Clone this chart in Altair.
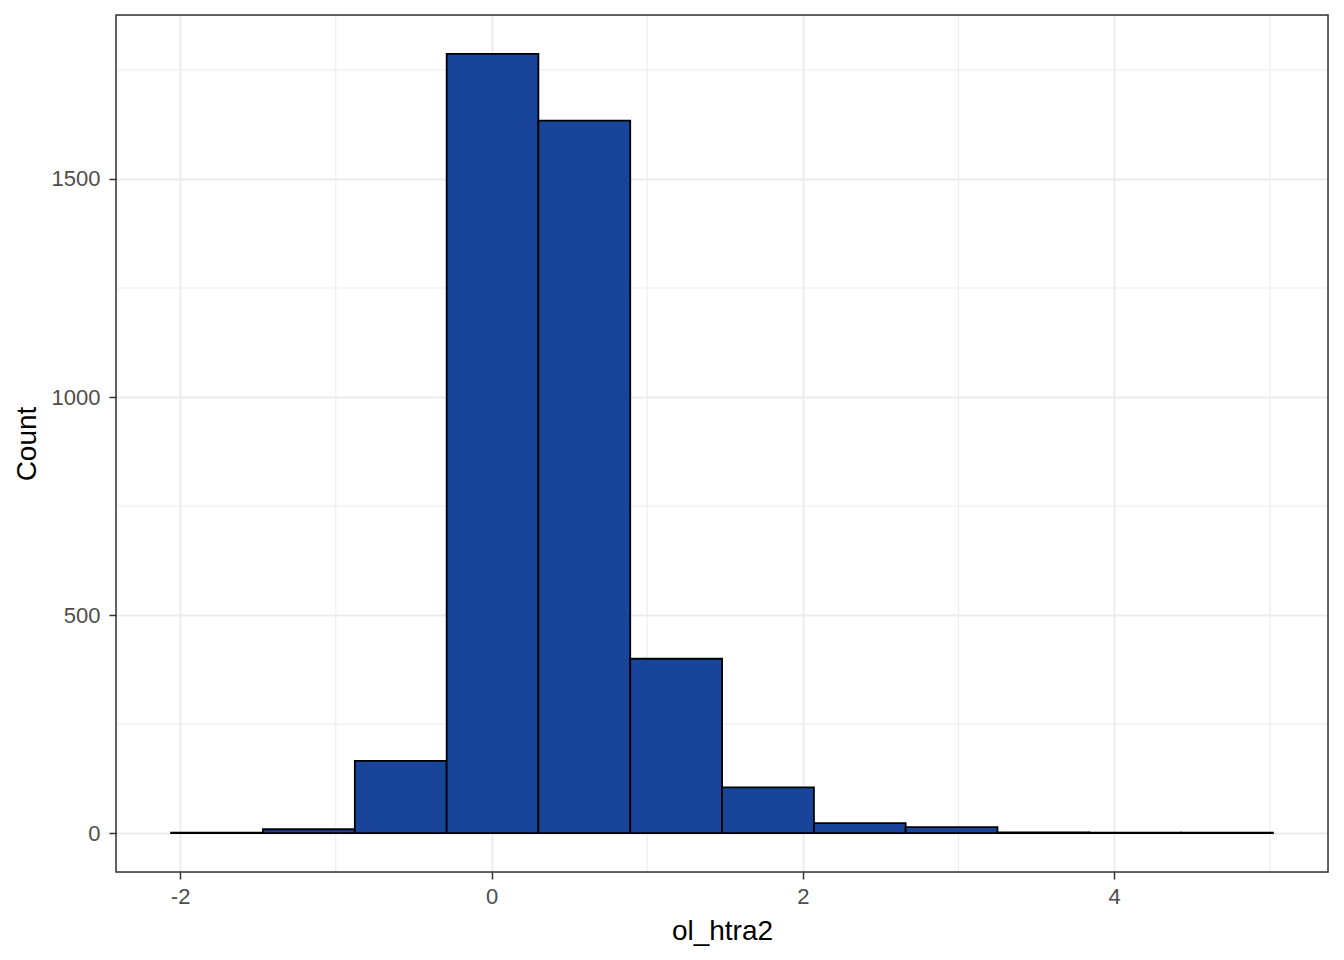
import altair as alt
import pandas as pd

# Histogram bins
bin_start = [-2.058, -1.468, -0.878, -0.288, 0.301, 0.891, 1.481, 2.071, 2.660, 3.250, 3.840, 4.430]
bin_end = [-1.468, -0.878, -0.288, 0.301, 0.891, 1.481, 2.071, 2.660, 3.250, 3.840, 4.430, 5.019]
counts = [1, 9, 166, 1787, 1634, 400, 105, 23, 14, 2, 1, 1]

x_major = [-2, 0, 2, 4]
x_minor = [-1, 1, 3, 5]
y_major = [0, 500, 1000, 1500]
y_minor = [250, 750, 1250, 1750]

x_domain = [-2.412, 5.373]
y_domain = [-89, 1876]

FONT = "Liberation Sans"
GRID = "#EBEBEB"

bars_df = pd.DataFrame({"start": bin_start, "end": bin_end, "count": counts})
xminor_df = pd.DataFrame({"v": x_minor})
yminor_df = pd.DataFrame({"v": y_minor})
frame_df = pd.DataFrame({"k": [0]})

xscale = alt.Scale(domain=x_domain, nice=False, zero=False)
yscale = alt.Scale(domain=y_domain, nice=False, zero=False)

xaxis = alt.Axis(values=x_major, title="ol_htra2", grid=True, gridColor=GRID, gridWidth=1.8,
                 domain=False, tickColor="#333333", tickSize=7, tickWidth=1.5,
                 labelExpr="toString(datum.value)",
                 labelFont=FONT, labelFontSize=22, labelColor="#4D4D4D", labelPadding=7,
                 titleFont=FONT, titleFontSize=28, titleFontWeight="normal", titleColor="black",
                 titlePadding=10, labelFlush=False)
yaxis = alt.Axis(values=y_major, title="Count", grid=True, gridColor=GRID, gridWidth=1.8,
                 domain=False, tickColor="#333333", tickSize=7, tickWidth=1.5,
                 labelExpr="toString(datum.value)",
                 labelFont=FONT, labelFontSize=22, labelColor="#4D4D4D", labelPadding=9,
                 titleFont=FONT, titleFontSize=28, titleFontWeight="normal", titleColor="black",
                 titlePadding=10, labelFlush=False)

xminor = alt.Chart(xminor_df).mark_rule(color=GRID, strokeWidth=1).encode(
    x=alt.X("v:Q", scale=xscale, axis=xaxis)
)
yminor = alt.Chart(yminor_df).mark_rule(color=GRID, strokeWidth=1).encode(
    y=alt.Y("v:Q", scale=yscale, axis=yaxis)
)

bars = alt.Chart(bars_df).mark_rect(color="#18449A", stroke="black", strokeWidth=1.8).encode(
    x=alt.X("start:Q", scale=xscale, axis=xaxis),
    x2="end:Q",
    y=alt.Y("count:Q", scale=yscale, axis=yaxis),
    y2=alt.datum(0),
)

frame = alt.Chart(frame_df).mark_rect(fill=None, fillOpacity=0, stroke="#333333", strokeWidth=1.5).encode(
    x=alt.value(0), x2=alt.value(1212), y=alt.value(0), y2=alt.value(857)
)

chart = alt.layer(xminor, yminor, bars, frame).properties(
    width=1212,
    height=857,
    autosize=alt.AutoSizeParams(type="none"),
    padding={"left": 108, "top": 7, "right": 8, "bottom": 80},
).configure_view(stroke=None).configure(background="white")

chart.save("out.html", embed_options={"renderer": "svg", "actions": False})
